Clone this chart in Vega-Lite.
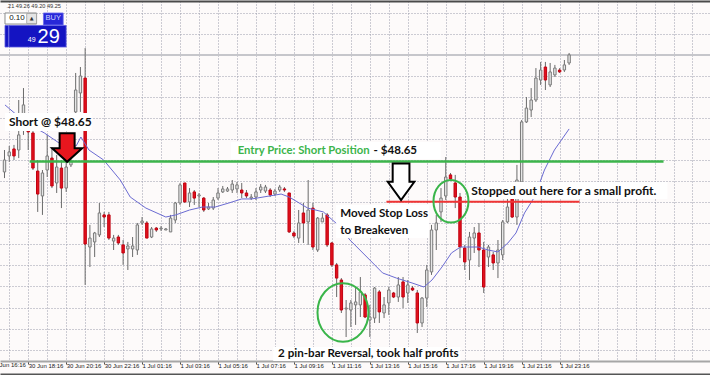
{
"$schema":"https://vega.github.io/schema/vega-lite/v6.json",
"width":710,"height":360,
"autosize":{"type":"none"},
"padding":{"left":0,"top":1,"right":0,"bottom":14},
"background":"#fdfafa",
"config":{"view":{"stroke":null},"axis":{"title":null}},
"datasets":{
"candles":[
{"i":-1,"o":48.590,"h":48.715,"l":48.555,"c":48.658},
{"i":0,"o":48.681,"h":48.738,"l":48.647,"c":48.704},
{"i":1,"o":48.721,"h":48.744,"l":48.658,"c":48.681},
{"i":2,"o":48.715,"h":49.000,"l":48.669,"c":48.801},
{"i":3,"o":48.829,"h":49.068,"l":48.801,"c":48.972},
{"i":4,"o":48.835,"h":48.840,"l":48.715,"c":48.818},
{"i":5,"o":48.812,"h":48.823,"l":48.601,"c":48.612},
{"i":6,"o":48.595,"h":48.658,"l":48.362,"c":48.464},
{"i":7,"o":48.453,"h":48.601,"l":48.345,"c":48.584},
{"i":8,"o":48.601,"h":48.801,"l":48.561,"c":48.681},
{"i":9,"o":48.669,"h":48.732,"l":48.498,"c":48.510},
{"i":10,"o":48.527,"h":48.687,"l":48.470,"c":48.618},
{"i":11,"o":48.612,"h":48.658,"l":48.384,"c":48.498},
{"i":12,"o":48.498,"h":48.647,"l":48.476,"c":48.618},
{"i":13,"o":48.630,"h":48.669,"l":48.618,"c":48.652},
{"i":14,"o":48.932,"h":49.154,"l":48.858,"c":49.057},
{"i":15,"o":49.040,"h":49.188,"l":48.932,"c":49.137},
{"i":16,"o":49.125,"h":49.296,"l":47.946,"c":48.179},
{"i":17,"o":48.162,"h":48.288,"l":48.048,"c":48.213},
{"i":18,"o":48.191,"h":48.248,"l":48.105,"c":48.242},
{"i":19,"o":48.231,"h":48.413,"l":48.219,"c":48.356},
{"i":20,"o":48.345,"h":48.362,"l":48.276,"c":48.333},
{"i":21,"o":48.345,"h":48.362,"l":48.202,"c":48.213},
{"i":22,"o":48.196,"h":48.231,"l":48.145,"c":48.213},
{"i":23,"o":48.219,"h":48.231,"l":48.174,"c":48.185},
{"i":24,"o":48.174,"h":48.202,"l":48.060,"c":48.128},
{"i":25,"o":48.151,"h":48.191,"l":48.031,"c":48.168},
{"i":26,"o":48.151,"h":48.219,"l":48.105,"c":48.168},
{"i":27,"o":48.145,"h":48.299,"l":48.117,"c":48.288},
{"i":28,"o":48.299,"h":48.333,"l":48.288,"c":48.310},
{"i":29,"o":48.299,"h":48.310,"l":48.213,"c":48.213},
{"i":30,"o":48.219,"h":48.276,"l":48.213,"c":48.265},
{"i":31,"o":48.270,"h":48.276,"l":48.248,"c":48.259},
{"i":32,"o":48.265,"h":48.282,"l":48.253,"c":48.270},
{"i":33,"o":48.259,"h":48.270,"l":48.259,"c":48.265},
{"i":34,"o":48.248,"h":48.345,"l":48.248,"c":48.327},
{"i":35,"o":48.316,"h":48.419,"l":48.299,"c":48.413},
{"i":36,"o":48.413,"h":48.527,"l":48.402,"c":48.516},
{"i":37,"o":48.527,"h":48.527,"l":48.413,"c":48.419},
{"i":38,"o":48.419,"h":48.498,"l":48.390,"c":48.470},
{"i":39,"o":48.476,"h":48.487,"l":48.402,"c":48.441},
{"i":40,"o":48.453,"h":48.470,"l":48.390,"c":48.459},
{"i":41,"o":48.441,"h":48.447,"l":48.362,"c":48.373},
{"i":42,"o":48.379,"h":48.413,"l":48.373,"c":48.390},
{"i":43,"o":48.384,"h":48.447,"l":48.373,"c":48.430},
{"i":44,"o":48.441,"h":48.498,"l":48.430,"c":48.470},
{"i":45,"o":48.476,"h":48.510,"l":48.470,"c":48.493},
{"i":46,"o":48.481,"h":48.504,"l":48.476,"c":48.493},
{"i":47,"o":48.487,"h":48.544,"l":48.470,"c":48.521},
{"i":48,"o":48.493,"h":48.533,"l":48.470,"c":48.516},
{"i":49,"o":48.487,"h":48.527,"l":48.441,"c":48.470},
{"i":50,"o":48.470,"h":48.487,"l":48.441,"c":48.453},
{"i":51,"o":48.441,"h":48.464,"l":48.430,"c":48.447},
{"i":52,"o":48.447,"h":48.498,"l":48.430,"c":48.476},
{"i":53,"o":48.487,"h":48.521,"l":48.470,"c":48.504},
{"i":54,"o":48.481,"h":48.516,"l":48.470,"c":48.504},
{"i":55,"o":48.487,"h":48.498,"l":48.447,"c":48.459},
{"i":56,"o":48.464,"h":48.493,"l":48.453,"c":48.481},
{"i":57,"o":48.487,"h":48.516,"l":48.476,"c":48.504},
{"i":58,"o":48.493,"h":48.504,"l":48.476,"c":48.487},
{"i":59,"o":48.470,"h":48.470,"l":48.242,"c":48.248},
{"i":60,"o":48.242,"h":48.253,"l":48.213,"c":48.225},
{"i":61,"o":48.213,"h":48.373,"l":48.185,"c":48.299},
{"i":62,"o":48.356,"h":48.413,"l":48.185,"c":48.299},
{"i":63,"o":48.305,"h":48.544,"l":48.174,"c":48.373},
{"i":64,"o":48.384,"h":48.413,"l":48.145,"c":48.162},
{"i":65,"o":48.145,"h":48.333,"l":48.134,"c":48.327},
{"i":66,"o":48.305,"h":48.356,"l":48.305,"c":48.327},
{"i":67,"o":48.345,"h":48.356,"l":48.162,"c":48.174},
{"i":68,"o":48.185,"h":48.191,"l":48.048,"c":48.060},
{"i":69,"o":48.060,"h":48.071,"l":47.877,"c":47.985},
{"i":70,"o":47.974,"h":47.985,"l":47.786,"c":47.803},
{"i":71,"o":47.809,"h":47.860,"l":47.649,"c":47.814},
{"i":72,"o":47.803,"h":47.860,"l":47.706,"c":47.843},
{"i":73,"o":47.832,"h":47.934,"l":47.718,"c":47.849},
{"i":74,"o":47.832,"h":47.991,"l":47.763,"c":47.906},
{"i":75,"o":47.889,"h":47.900,"l":47.757,"c":47.763},
{"i":76,"o":47.746,"h":47.832,"l":47.649,"c":47.763},
{"i":77,"o":47.757,"h":47.934,"l":47.729,"c":47.928},
{"i":78,"o":47.906,"h":47.917,"l":47.729,"c":47.792},
{"i":79,"o":47.786,"h":47.877,"l":47.757,"c":47.832},
{"i":80,"o":47.843,"h":47.934,"l":47.775,"c":47.917},
{"i":81,"o":47.900,"h":47.906,"l":47.871,"c":47.877},
{"i":82,"o":47.877,"h":47.991,"l":47.849,"c":47.946},
{"i":83,"o":47.963,"h":47.991,"l":47.814,"c":47.877},
{"i":84,"o":47.900,"h":47.974,"l":47.843,"c":47.946},
{"i":85,"o":47.928,"h":47.940,"l":47.911,"c":47.917},
{"i":86,"o":47.900,"h":47.917,"l":47.672,"c":47.729},
{"i":87,"o":47.729,"h":47.877,"l":47.706,"c":47.871},
{"i":88,"o":47.871,"h":48.060,"l":47.820,"c":48.031},
{"i":89,"o":48.020,"h":48.288,"l":48.003,"c":48.259},
{"i":90,"o":48.259,"h":48.345,"l":48.145,"c":48.299},
{"i":91,"o":48.362,"h":48.498,"l":48.305,"c":48.441},
{"i":92,"o":48.453,"h":48.675,"l":48.430,"c":48.561},
{"i":93,"o":48.573,"h":48.584,"l":48.544,"c":48.550},
{"i":94,"o":48.527,"h":48.573,"l":48.384,"c":48.447},
{"i":95,"o":48.447,"h":48.470,"l":48.099,"c":48.162},
{"i":96,"o":48.156,"h":48.174,"l":48.031,"c":48.077},
{"i":97,"o":48.088,"h":48.248,"l":47.974,"c":48.219},
{"i":98,"o":48.213,"h":48.276,"l":48.128,"c":48.242},
{"i":99,"o":48.242,"h":48.299,"l":48.048,"c":48.145},
{"i":100,"o":48.145,"h":48.191,"l":47.900,"c":47.934},
{"i":101,"o":48.105,"h":48.174,"l":48.048,"c":48.162},
{"i":102,"o":48.117,"h":48.134,"l":48.031,"c":48.071},
{"i":103,"o":48.071,"h":48.202,"l":47.985,"c":48.145},
{"i":104,"o":48.117,"h":48.316,"l":48.088,"c":48.305},
{"i":105,"o":48.305,"h":48.441,"l":48.299,"c":48.390},
{"i":106,"o":48.441,"h":48.447,"l":48.327,"c":48.333},
{"i":107,"o":48.333,"h":48.630,"l":48.288,"c":48.544},
{"i":108,"o":48.533,"h":48.886,"l":48.527,"c":48.875},
{"i":109,"o":48.875,"h":49.017,"l":48.869,"c":48.954},
{"i":110,"o":48.943,"h":49.068,"l":48.903,"c":49.000},
{"i":111,"o":49.000,"h":49.182,"l":48.989,"c":49.125},
{"i":112,"o":49.114,"h":49.217,"l":49.086,"c":49.171},
{"i":113,"o":49.188,"h":49.217,"l":49.057,"c":49.114},
{"i":114,"o":49.086,"h":49.211,"l":49.074,"c":49.160},
{"i":115,"o":49.143,"h":49.200,"l":49.131,"c":49.182},
{"i":116,"o":49.171,"h":49.182,"l":49.154,"c":49.160},
{"i":117,"o":49.171,"h":49.228,"l":49.160,"c":49.200},
{"i":118,"o":49.211,"h":49.268,"l":49.200,"c":49.257}
],
"ma":[
{"i":-0.9,"p":48.972},{"i":3.3,"p":48.875},{"i":7.4,"p":48.812},{"i":10.5,"p":48.755},
{"i":14.1,"p":48.738},{"i":15.1,"p":48.789},{"i":16.8,"p":48.715},{"i":19.9,"p":48.658},
{"i":23.4,"p":48.544},{"i":25.5,"p":48.447},{"i":28.8,"p":48.384},{"i":33.0,"p":48.333},
{"i":35.1,"p":48.345},{"i":38.0,"p":48.373},{"i":40.7,"p":48.390},{"i":43.4,"p":48.390},
{"i":46.3,"p":48.413},{"i":49.0,"p":48.436},{"i":51.1,"p":48.436},{"i":57.3,"p":48.464},
{"i":59.0,"p":48.447},{"i":62.9,"p":48.384},{"i":66.2,"p":48.362},{"i":69.8,"p":48.276},
{"i":71.8,"p":48.202},{"i":73.9,"p":48.145},{"i":76.0,"p":48.088},{"i":78.7,"p":48.014},
{"i":81.6,"p":47.985},{"i":84.9,"p":47.957},{"i":87.4,"p":47.934},{"i":89.1,"p":47.974},
{"i":91.2,"p":48.048},{"i":93.2,"p":48.128},{"i":95.1,"p":48.162},{"i":98.9,"p":48.162},
{"i":100.9,"p":48.145},{"i":103.0,"p":48.134},{"i":105.1,"p":48.185},{"i":106.8,"p":48.242},
{"i":108.6,"p":48.356},{"i":110.7,"p":48.447},{"i":112.8,"p":48.601},{"i":114.9,"p":48.715},
{"i":118.0,"p":48.835}
]
},
"layer":[
{"data":{"name":"candles"},"mark":{"type":"point","opacity":0},
 "encoding":{
  "x":{"field":"i","type":"quantitative","scale":{"domain":[-0.8935,146.638],"nice":false,"zero":false},
   "axis":{"orient":"bottom","values":[0,4,8,12,16,20,24,28,32,36,40,44,48,52,56,60,64,68,72,76,80,84,88,92,96,100,104,108,112,116,120,124,128,132,136,140,144],
    "grid":true,"gridColor":"#9a9cac","gridDash":[1,2],"gridWidth":1,
    "domain":true,"domainColor":"#a6a6a6","domainWidth":2,
    "ticks":true,"tickSize":3,"tickColor":"#505050",
    "tickOpacity":{"condition":{"test":"datum.value % 8 == 4 && datum.value <= 116","value":1},"value":0},
    "labelExpr":"datum.value % 8 == 4 && datum.value <= 116 ? ['30 Jun 18:16','30 Jun 20:16','30 Jun 22:16','1 Jul 01:16','1 Jul 03:16','1 Jul 05:16','1 Jul 07:16','1 Jul 09:16','1 Jul 11:16','1 Jul 13:16','1 Jul 15:16','1 Jul 17:16','1 Jul 19:16','1 Jul 21:16','1 Jul 23:16'][round((datum.value-4)/8)] : ''",
    "labelAlign":"left","labelBaseline":"top","labelPadding":-2,"labelDx":1,
    "labelFont":"Liberation Sans","labelFontSize":6,"labelColor":"#202020",
    "labelFlush":false,"labelOverlap":false}},
  "y":{"field":"h","type":"quantitative","scale":{"domain":[47.5123,49.5643],"nice":false,"zero":false},
   "axis":{"orient":"left","values":[47.577,47.697,47.817,47.937,48.057,48.177,48.297,48.417,48.537,48.657,48.777,48.897,49.017,49.137,49.257,49.377,49.497],
    "grid":true,"gridColor":"#9a9cac","gridDash":[1,2],"gridWidth":1,"domain":false,"ticks":false,"labels":false}}
 }},
{"data":{"name":"candles"},"mark":{"type":"point","opacity":0},
 "encoding":{
  "x":{"field":"i","type":"quantitative","scale":{"domain":[-0.8935,146.638],"nice":false,"zero":false},
   "axis":{"orient":"top","domain":true,"domainColor":"#4a4a4a","domainWidth":2,"ticks":false,"labels":false,"grid":false}},
  "y":{"field":"h","type":"quantitative","scale":{"domain":[47.5123,49.5643],"nice":false,"zero":false},"axis":null}
 }},
{"data":{"name":"candles"},"mark":{"type":"point","opacity":0},
 "encoding":{
  "x":{"field":"i","type":"quantitative","scale":{"domain":[-0.8935,146.638],"nice":false,"zero":false},
   "axis":{"orient":"bottom","offset":13,"domain":true,"domainColor":"#555555","domainWidth":2,"ticks":false,"labels":false,"grid":false}},
  "y":{"field":"h","type":"quantitative","scale":{"domain":[47.5123,49.5643],"nice":false,"zero":false},"axis":null}
 }},
{"data":{"values":[{"i":-4,"p":47.5066,"t":"30 Jun 16:16"}]},
 "mark":{"type":"text","align":"left","baseline":"top","dx":1,"font":"Liberation Sans","fontSize":6,"color":"#202020"},
 "encoding":{
  "x":{"field":"i","type":"quantitative","scale":{"domain":[-0.8935,146.638],"nice":false,"zero":false},"axis":null},
  "y":{"field":"p","type":"quantitative","scale":{"domain":[47.5123,49.5643],"nice":false,"zero":false},"axis":null},
  "text":{"field":"t"}
 }},
{"data":{"values":[{"p":49.257}]},"mark":{"type":"rule","color":"#c6c6cb","strokeWidth":2},
 "encoding":{"y":{"field":"p","type":"quantitative","scale":{"domain":[47.5123,49.5643],"nice":false,"zero":false},"axis":null}}},
{"data":{"name":"candles"},"mark":{"type":"rule","color":"#6a6a6a","strokeWidth":1},
 "encoding":{
  "x":{"field":"i","type":"quantitative","scale":{"domain":[-0.8935,146.638],"nice":false,"zero":false},"axis":null},
  "y":{"field":"l","type":"quantitative","scale":{"domain":[47.5123,49.5643],"nice":false,"zero":false},"axis":null},
  "y2":{"field":"h"}
 }},
{"data":{"name":"candles"},"mark":{"type":"bar","width":2.4,"strokeWidth":1},
 "encoding":{
  "x":{"field":"i","type":"quantitative","scale":{"domain":[-0.8935,146.638],"nice":false,"zero":false},"axis":null},
  "y":{"field":"o","type":"quantitative","scale":{"domain":[47.5123,49.5643],"nice":false,"zero":false},"axis":null},
  "y2":{"field":"c"},
  "fill":{"condition":{"test":"datum.c >= datum.o","value":"#e6e6e6"},"value":"#e3101c"},
  "stroke":{"condition":{"test":"datum.c >= datum.o","value":"#7a7a7a"},"value":"#c00010"}
 }},
{"data":{"name":"ma"},"mark":{"type":"line","color":"#6b6bd2","strokeWidth":1},
 "encoding":{
  "x":{"field":"i","type":"quantitative","scale":{"domain":[-0.8935,146.638],"nice":false,"zero":false},"axis":null},
  "y":{"field":"p","type":"quantitative","scale":{"domain":[47.5123,49.5643],"nice":false,"zero":false},"axis":null}
 }},
{"data":{"values":[{"i":4.3,"i2":137.9,"p":48.65}]},"mark":{"type":"rule","color":"#3cb44b","strokeWidth":2.5},
 "encoding":{
  "x":{"field":"i","type":"quantitative","scale":{"domain":[-0.8935,146.638],"nice":false,"zero":false},"axis":null},
  "x2":{"field":"i2"},
  "y":{"field":"p","type":"quantitative","scale":{"domain":[47.5123,49.5643],"nice":false,"zero":false},"axis":null}
 }},
{"data":{"values":[{"i":79.5,"i2":120.2,"p":48.42}]},"mark":{"type":"rule","color":"#f03434","strokeWidth":2},
 "encoding":{
  "x":{"field":"i","type":"quantitative","scale":{"domain":[-0.8935,146.638],"nice":false,"zero":false},"axis":null},
  "x2":{"field":"i2"},
  "y":{"field":"p","type":"quantitative","scale":{"domain":[47.5123,49.5643],"nice":false,"zero":false},"axis":null}
 }},
{"data":{"values":[
  {"i":-0.894,"i2":17.39,"p":48.926,"p2":48.823},
  {"i":46.7,"i2":90.95,"p":48.761,"p2":48.664},
  {"i":68.9,"i2":88.46,"p":48.402,"p2":48.213},
  {"i":96.77,"i2":138.7,"p":48.533,"p2":48.436},
  {"i":55.63,"i2":95.1,"p":47.592,"p2":47.5123}
 ]},"mark":{"type":"rect","color":"#ffffff"},
 "encoding":{
  "x":{"field":"i","type":"quantitative","scale":{"domain":[-0.8935,146.638],"nice":false,"zero":false},"axis":null},
  "x2":{"field":"i2"},
  "y":{"field":"p","type":"quantitative","scale":{"domain":[47.5123,49.5643],"nice":false,"zero":false},"axis":null},
  "y2":{"field":"p2"}
 }},
{"data":{"values":[
  {"i":-0.06,"p":48.875,"t":"Short @ $48.65"},
  {"i":97.39,"p":48.481,"t":"Stopped out here for a small profit."}
 ]},"mark":{"type":"text","align":"left","baseline":"middle","font":"Lato","fontWeight":"bold","fontSize":12,"color":"#111111"},
 "encoding":{
  "x":{"field":"i","type":"quantitative","scale":{"domain":[-0.8935,146.638],"nice":false,"zero":false},"axis":null},
  "y":{"field":"p","type":"quantitative","scale":{"domain":[47.5123,49.5643],"nice":false,"zero":false},"axis":null},
  "text":{"field":"t"}
 }},
{"data":{"values":[
  {"i":69.76,"p":48.350,"t":"Moved Stop Loss"},
  {"i":69.76,"p":48.253,"t":"to Breakeven"},
  {"i":56.67,"p":47.552,"t":"2 pin-bar Reversal, took half profits"}
 ]},"mark":{"type":"text","align":"left","baseline":"middle","font":"Lato","fontWeight":"bold","fontSize":11.6,"color":"#111111"},
 "encoding":{
  "x":{"field":"i","type":"quantitative","scale":{"domain":[-0.8935,146.638],"nice":false,"zero":false},"axis":null},
  "y":{"field":"p","type":"quantitative","scale":{"domain":[47.5123,49.5643],"nice":false,"zero":false},"axis":null},
  "text":{"field":"t"}
 }},
{"data":{"values":[{"i":48.15,"p":48.709,"t":"Entry Price: Short Position"}]},
 "mark":{"type":"text","align":"left","baseline":"middle","font":"Lato","fontWeight":"bold","fontSize":11.3,"color":"#3cb44b"},
 "encoding":{
  "x":{"field":"i","type":"quantitative","scale":{"domain":[-0.8935,146.638],"nice":false,"zero":false},"axis":null},
  "y":{"field":"p","type":"quantitative","scale":{"domain":[47.5123,49.5643],"nice":false,"zero":false},"axis":null},
  "text":{"field":"t"}
 }},
{"data":{"values":[{"i":85.96,"p":48.709,"t":"- $48.65"}]},
 "mark":{"type":"text","align":"right","baseline":"middle","font":"Lato","fontWeight":"bold","fontSize":11.6,"color":"#111111"},
 "encoding":{
  "x":{"field":"i","type":"quantitative","scale":{"domain":[-0.8935,146.638],"nice":false,"zero":false},"axis":null},
  "y":{"field":"p","type":"quantitative","scale":{"domain":[47.5123,49.5643],"nice":false,"zero":false},"axis":null},
  "text":{"field":"t"}
 }},
{"data":{"values":[{"i":12.2,"p":48.729}]},
 "mark":{"type":"point","shape":"M-0.5,-0.95L0.5,-0.95L0.5,0.05L1,0.05L0,0.95L-1,0.05L-0.5,0.05Z","size":900,"filled":true,"fill":"#e8161e","stroke":"#000000","strokeWidth":2,"opacity":1},
 "encoding":{
  "x":{"field":"i","type":"quantitative","scale":{"domain":[-0.8935,146.638],"nice":false,"zero":false},"axis":null},
  "y":{"field":"p","type":"quantitative","scale":{"domain":[47.5123,49.5643],"nice":false,"zero":false},"axis":null}
 }},
{"data":{"values":[{"i":82.58,"p":48.534}]},
 "mark":{"type":"point","shape":"M-0.63,-1.38L0.63,-1.38L0.63,0L1,0L0,1.38L-1,0L-0.63,0Z","size":708,"filled":true,"fill":"#ffffff","stroke":"#000000","strokeWidth":2,"opacity":1},
 "encoding":{
  "x":{"field":"i","type":"quantitative","scale":{"domain":[-0.8935,146.638],"nice":false,"zero":false},"axis":null},
  "y":{"field":"p","type":"quantitative","scale":{"domain":[47.5123,49.5643],"nice":false,"zero":false},"axis":null}
 }},
{"data":{"values":[{"i":70.34,"p":47.789}]},
 "mark":{"type":"point","shape":"M1,0C1,0.635 0.552,1.15 0,1.15C-0.552,1.15 -1,0.635 -1,0C-1,-0.635 -0.552,-1.15 0,-1.15C0.552,-1.15 1,-0.635 1,0Z","size":2601,"filled":false,"stroke":"#3ab54a","strokeWidth":2,"opacity":1},
 "encoding":{
  "x":{"field":"i","type":"quantitative","scale":{"domain":[-0.8935,146.638],"nice":false,"zero":false},"axis":null},
  "y":{"field":"p","type":"quantitative","scale":{"domain":[47.5123,49.5643],"nice":false,"zero":false},"axis":null}
 }},
{"data":{"values":[{"i":93.1,"p":48.423}]},
 "mark":{"type":"point","shape":"M1,0C1,0.674 0.552,1.22 0,1.22C-0.552,1.22 -1,0.674 -1,0C-1,-0.674 -0.552,-1.22 0,-1.22C0.552,-1.22 1,-0.674 1,0Z","size":1225,"filled":false,"stroke":"#3ab54a","strokeWidth":2,"opacity":1},
 "encoding":{
  "x":{"field":"i","type":"quantitative","scale":{"domain":[-0.8935,146.638],"nice":false,"zero":false},"axis":null},
  "y":{"field":"p","type":"quantitative","scale":{"domain":[47.5123,49.5643],"nice":false,"zero":false},"axis":null}
 }},
{"data":{"values":[
  {"i":-0.894,"i2":-0.17,"p":49.425,"p2":49.302},
  {"i":-0.06,"i2":11.99,"p":49.425,"p2":49.302}
 ]},"mark":{"type":"rect","color":"#1414c2","stroke":"#5a5ae0","strokeWidth":0.8},
 "encoding":{
  "x":{"field":"i","type":"quantitative","scale":{"domain":[-0.8935,146.638],"nice":false,"zero":false},"axis":null},
  "x2":{"field":"i2"},
  "y":{"field":"p","type":"quantitative","scale":{"domain":[47.5123,49.5643],"nice":false,"zero":false},"axis":null},
  "y2":{"field":"p2"}
 }},
{"data":{"values":[{"i":-0.894,"i2":5.756,"p":49.496,"p2":49.433}]},
 "mark":{"type":"rect","color":"#ffffff","stroke":"#8c8c8c","strokeWidth":1},
 "encoding":{
  "x":{"field":"i","type":"quantitative","scale":{"domain":[-0.8935,146.638],"nice":false,"zero":false},"axis":null},
  "x2":{"field":"i2"},
  "y":{"field":"p","type":"quantitative","scale":{"domain":[47.5123,49.5643],"nice":false,"zero":false},"axis":null},
  "y2":{"field":"p2"}
 }},
{"data":{"values":[{"i":3.68,"i2":5.756,"p":49.493,"p2":49.436}]},
 "mark":{"type":"rect","color":"#e4e4e4","stroke":"#a0a0a0","strokeWidth":0.8},
 "encoding":{
  "x":{"field":"i","type":"quantitative","scale":{"domain":[-0.8935,146.638],"nice":false,"zero":false},"axis":null},
  "x2":{"field":"i2"},
  "y":{"field":"p","type":"quantitative","scale":{"domain":[47.5123,49.5643],"nice":false,"zero":false},"axis":null},
  "y2":{"field":"p2"}
 }},
{"data":{"values":[{"i":7.21,"i2":11.37,"p":49.496,"p2":49.428}]},
 "mark":{"type":"rect","color":"#2828d8","stroke":"#6a6aee","strokeWidth":0.8},
 "encoding":{
  "x":{"field":"i","type":"quantitative","scale":{"domain":[-0.8935,146.638],"nice":false,"zero":false},"axis":null},
  "x2":{"field":"i2"},
  "y":{"field":"p","type":"quantitative","scale":{"domain":[47.5123,49.5643],"nice":false,"zero":false},"axis":null},
  "y2":{"field":"p2"}
 }},
{"data":{"values":[{"i":3.26,"p":49.465,"t":"0.10"}]},
 "mark":{"type":"text","align":"right","baseline":"middle","font":"Liberation Sans","fontSize":8,"color":"#111111"},
 "encoding":{
  "x":{"field":"i","type":"quantitative","scale":{"domain":[-0.8935,146.638],"nice":false,"zero":false},"axis":null},
  "y":{"field":"p","type":"quantitative","scale":{"domain":[47.5123,49.5643],"nice":false,"zero":false},"axis":null},
  "text":{"field":"t"}
 }},
{"data":{"values":[{"i":4.72,"p":49.466,"t":"▲"}]},
 "mark":{"type":"text","align":"center","baseline":"middle","font":"DejaVu Sans","fontSize":5,"color":"#333333"},
 "encoding":{
  "x":{"field":"i","type":"quantitative","scale":{"domain":[-0.8935,146.638],"nice":false,"zero":false},"axis":null},
  "y":{"field":"p","type":"quantitative","scale":{"domain":[47.5123,49.5643],"nice":false,"zero":false},"axis":null},
  "text":{"field":"t"}
 }},
{"data":{"values":[{"i":9.29,"p":49.466,"t":"BUY"}]},
 "mark":{"type":"text","align":"center","baseline":"middle","font":"Liberation Sans","fontSize":7.5,"color":"#cdd4ff"},
 "encoding":{
  "x":{"field":"i","type":"quantitative","scale":{"domain":[-0.8935,146.638],"nice":false,"zero":false},"axis":null},
  "y":{"field":"p","type":"quantitative","scale":{"domain":[47.5123,49.5643],"nice":false,"zero":false},"axis":null},
  "text":{"field":"t"}
 }},
{"data":{"values":[{"i":4.72,"p":49.342,"t":"49"}]},
 "mark":{"type":"text","align":"center","baseline":"middle","font":"Liberation Sans","fontSize":7,"color":"#ffffff"},
 "encoding":{
  "x":{"field":"i","type":"quantitative","scale":{"domain":[-0.8935,146.638],"nice":false,"zero":false},"axis":null},
  "y":{"field":"p","type":"quantitative","scale":{"domain":[47.5123,49.5643],"nice":false,"zero":false},"axis":null},
  "text":{"field":"t"}
 }},
{"data":{"values":[{"i":-0.58,"p":49.536,"t":".21 49.26 49.20 49.25"}]},
 "mark":{"type":"text","align":"left","baseline":"middle","font":"Liberation Sans","fontSize":5.6,"color":"#333333"},
 "encoding":{
  "x":{"field":"i","type":"quantitative","scale":{"domain":[-0.8935,146.638],"nice":false,"zero":false},"axis":null},
  "y":{"field":"p","type":"quantitative","scale":{"domain":[47.5123,49.5643],"nice":false,"zero":false},"axis":null},
  "text":{"field":"t"}
 }},
{"data":{"values":[{"i":5.96,"p":49.359,"t":"29"}]},
 "mark":{"type":"text","align":"left","baseline":"middle","font":"Liberation Sans","fontSize":20,"color":"#ffffff"},
 "encoding":{
  "x":{"field":"i","type":"quantitative","scale":{"domain":[-0.8935,146.638],"nice":false,"zero":false},"axis":null},
  "y":{"field":"p","type":"quantitative","scale":{"domain":[47.5123,49.5643],"nice":false,"zero":false},"axis":null},
  "text":{"field":"t"}
 }}
],
"resolve":{"axis":{"x":"independent","y":"independent"}}
}
